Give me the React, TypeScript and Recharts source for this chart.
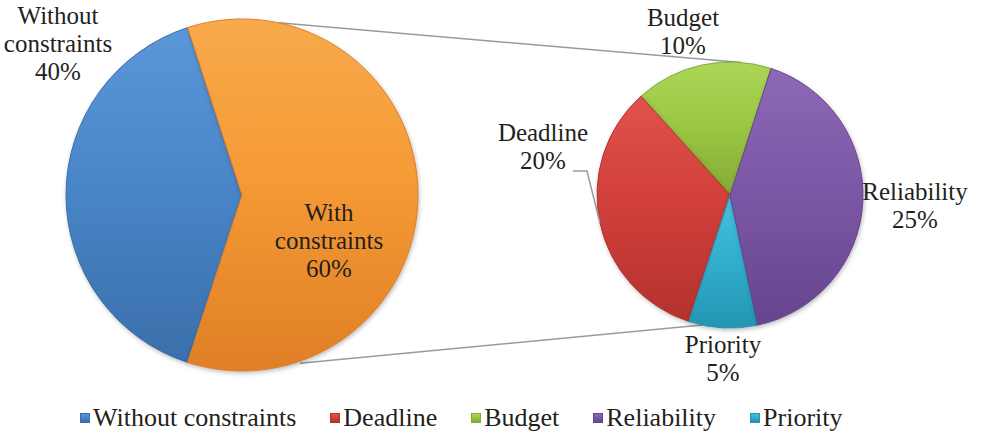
import { Cell, Legend, Pie, PieChart } from "recharts"

const MAIN_NAMES = ["Without constraints", "With constraints"]
const MAIN_VALUES = [40, 60]
const SUB_NAMES = ["Budget", "Deadline", "Priority", "Reliability"]
const SUB_VALUES = [10, 20, 5, 25]
const LEGEND_NAMES = ["Without constraints", "Deadline", "Budget", "Reliability", "Priority"]

const W = 985
const H = 436
const FONT = "Liberation Serif, DejaVu Serif, Tinos, Times New Roman, serif"
const INK = "#231f20"

// pie geometry
const MAIN = { cx: 242, cy: 195, r: 176, start: 108 }
const SUB = { cx: 730, cy: 195, r: 133, start: 72 }

const COLORS: Record<string, [string, string, string]> = {
  "Without constraints": ["#5b97d8", "#4a86c8", "#3a6faa"],
  "With constraints": ["#f8aa4c", "#f59a35", "#e07f26"],
  Deadline: ["#e0534c", "#d2403c", "#b3322e"],
  Budget: ["#acd657", "#9cc844", "#84ab35"],
  Reliability: ["#8c68b5", "#7d58a6", "#66448e"],
  Priority: ["#46bfdd", "#33b0d0", "#2495b2"],
}

// label centre relative to the pie centre
const LABEL_OFFSET: Record<string, [number, number]> = {
  "Without constraints": [-184, -152],
  "With constraints": [87, 45],
  Budget: [-47, -164],
  Deadline: [-187, -49],
  Reliability: [185, 10],
  Priority: [-7, 163],
}

const mainData = MAIN_NAMES.map((name, i) => ({ name, value: MAIN_VALUES[i] }))
const subData = SUB_NAMES.map((name, i) => ({ name, value: SUB_VALUES[i] }))

const gradId = (name: string) => "g-" + name.replace(/\s+/g, "-")
const RAD = Math.PI / 180

function renderLabel(props: any) {
  const { cx, cy, midAngle, outerRadius, name, value } = props
  const off = LABEL_OFFSET[name] ?? [0, 0]
  const x = cx + off[0]
  const y = cy + off[1]
  const lines = [...name.split(" "), `${value}%`]
  const lh = 28
  const top = y - ((lines.length - 1) * lh) / 2
  let leader = null
  if (name === "Deadline") {
    const ex = cx + outerRadius * Math.cos(-midAngle * RAD)
    const ey = cy + outerRadius * Math.sin(-midAngle * RAD)
    leader = (
      <polyline
        points={`${x + 30},${y + 25} ${x + 44},${y + 25} ${ex},${ey}`}
        fill="none"
        stroke="#9a9a9a"
        strokeWidth={1.5}
      />
    )
  }
  return (
    <g key={name}>
      {leader}
      <text x={x} y={top} textAnchor="middle" dominantBaseline="central" fill={INK} fontSize={25} style={{ fontFamily: FONT }}>
        {lines.map((l, i) => (
          <tspan key={i} x={x} dy={i === 0 ? 0 : lh}>
            {l}
          </tspan>
        ))}
      </text>
    </g>
  )
}

function LegendContent() {
  return (
    <div
      style={{
        display: "flex",
        alignItems: "center",
        paddingLeft: 80,
        gap: 34,
        fontFamily: FONT,
        fontSize: 26,
        color: INK,
        whiteSpace: "nowrap",
        lineHeight: "34px",
      }}
    >
      {LEGEND_NAMES.map((name) => (
        <div key={name} style={{ display: "flex", alignItems: "center", gap: 3 }}>
          <span
            style={{
              width: 10,
              height: 10,
              background: `linear-gradient(${COLORS[name][0]}, ${COLORS[name][2]})`,
              border: `1px solid ${COLORS[name][2]}`,
              boxSizing: "border-box",
              display: "inline-block",
            }}
          />
          <span>{name}</span>
        </div>
      ))}
    </div>
  )
}

const pt = (c: { cx: number; cy: number; r: number }, deg: number, r = c.r) => [
  c.cx + r * Math.cos(deg * RAD),
  c.cy - r * Math.sin(deg * RAD),
]

export default function App() {
  const [t1x, t1y] = pt(MAIN, 78)
  const [t2x, t2y] = pt(SUB, 85)
  const [b1x, b1y] = pt(MAIN, -71, 178)
  const [b2x, b2y] = pt(SUB, 258)

  return (
    <div style={{ position: "absolute", left: 0, top: 0, width: W, height: H, background: "#fff", fontFamily: FONT }}>
      <style>{`.recharts-pie-sector { filter: drop-shadow(1px 2px 2px rgba(0,0,0,0.25)); }`}</style>
      <svg width={W} height={H} style={{ position: "absolute", left: 0, top: 0 }}>
        <defs>
          {Object.entries(COLORS).map(([name, [light, base, dark]]) => (
            <linearGradient key={name} id={gradId(name)} x1="0" y1="0" x2="0" y2="1">
              <stop offset="0%" stopColor={light} />
              <stop offset="45%" stopColor={base} />
              <stop offset="100%" stopColor={dark} />
            </linearGradient>
          ))}
        </defs>
        <line x1={t1x} y1={t1y} x2={t2x} y2={t2y} stroke="#9a9a9a" strokeWidth={1.5} />
        <line x1={b1x} y1={b1y} x2={b2x} y2={b2y} stroke="#9a9a9a" strokeWidth={1.5} />
      </svg>
      <div style={{ position: "absolute", left: 0, top: 0 }}>
        <PieChart width={W} height={H} margin={{ top: 0, right: 0, bottom: 0, left: 0 }}>
          <Pie
            data={mainData}
            dataKey="value"
            nameKey="name"
            cx={MAIN.cx}
            cy={MAIN.cy}
            outerRadius={MAIN.r}
            startAngle={MAIN.start}
            endAngle={MAIN.start + 360}
            isAnimationActive={false}
            label={renderLabel}
            labelLine={false}
            stroke="none"
          >
            {mainData.map((d) => (
              <Cell key={d.name} fill={`url(#${gradId(d.name)})`} stroke={COLORS[d.name][2]} strokeWidth={1} />
            ))}
          </Pie>
          <Pie
            data={subData}
            dataKey="value"
            nameKey="name"
            cx={SUB.cx}
            cy={SUB.cy}
            outerRadius={SUB.r}
            startAngle={SUB.start}
            endAngle={SUB.start + 360}
            isAnimationActive={false}
            label={renderLabel}
            labelLine={false}
            stroke="none"
          >
            {subData.map((d) => (
              <Cell key={d.name} fill={`url(#${gradId(d.name)})`} stroke={COLORS[d.name][2]} strokeWidth={1} />
            ))}
          </Pie>
          <Legend
            content={() => <LegendContent />}
            wrapperStyle={{ position: "absolute", left: 0, top: 401, width: W, height: 34 }}
          />
        </PieChart>
      </div>
    </div>
  )
}
